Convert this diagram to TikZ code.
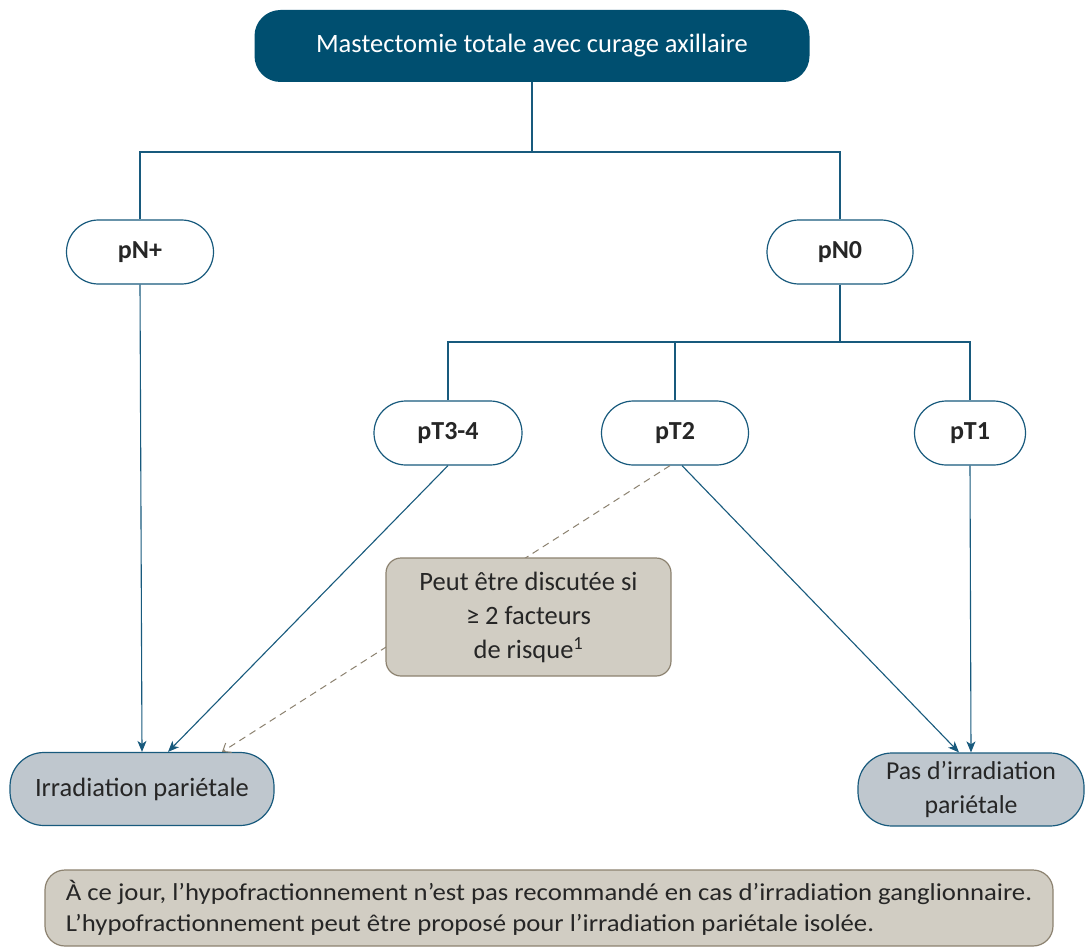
\documentclass[tikz,border=0pt]{standalone}
\usepackage{fontspec}
\setmainfont{Carlito}
\newfontfamily\widefont[FakeStretch=1.1]{Carlito}
\usetikzlibrary{arrows.meta,calc}
\definecolor{teal}{RGB}{0,79,112}
\definecolor{lnc}{RGB}{24,90,125}
\definecolor{tan}{RGB}{209,205,195}
\definecolor{tanb}{RGB}{140,130,112}
\definecolor{gry}{RGB}{191,199,206}
\begin{document}
\begin{tikzpicture}[x=1pt,y=-1pt,
  pill/.style={draw=lnc,line width=1.2pt,fill=white,rounded corners=32pt,minimum height=64pt,font=\fontsize{26}{30}\selectfont\bfseries,text=black!85},
  res/.style={draw=lnc,line width=1.2pt,fill=gry,rounded corners=34pt,minimum height=73pt,align=center,text=black!85},
  conn/.style={draw=lnc,line width=1.1pt},
  arr/.style={conn,-{Stealth[length=11pt,width=9pt,inset=3pt]}},
  darr/.style={draw=tanb,line width=1pt,dashed,dash pattern=on 7pt off 5pt,-{Straight Barb[length=7pt,width=11pt]}}]
\useasboundingbox (0,0) rectangle (1089,952);
\fill[white] (0,0) rectangle (1089,952);
\node[minimum width=555pt,minimum height=72pt,fill=teal,rounded corners=26pt,text=white,font=\fontsize{26.5}{30}\selectfont] (top) at (532,46) {Mastectomie totale avec curage axillaire};
\node[pill,minimum width=147pt] (pnp) at (140,252) {pN+};
\node[pill,minimum width=146pt] (pn0) at (840,252) {pN0};
\node[pill,minimum width=148pt] (t34) at (448,433) {pT3-4};
\node[pill,minimum width=147pt] (t2) at (675,433) {pT2};
\node[pill,minimum width=111pt] (t1) at (970,433) {pT1};
\node[res,minimum width=264pt,font=\fontsize{26.5}{33}\selectfont] (irr) at (142,789) {Irradiation pariétale};
\node[res,minimum width=226pt,font=\fontsize{25.8}{34}\selectfont] (pas) at (971,789.5) {Pas d’irradiation\\pariétale};
\coordinate (j1) at (532,152);
\coordinate (j2) at (840,342);
\draw[conn] (top.south) -- (j1);
\draw[conn] (j1) -| (pnp.north);
\draw[conn] (j1) -| (pn0.north);
\draw[conn] (pn0.south) -- (j2);
\draw[conn] (j2) -| (t34.north);
\draw[conn] (j2) -| (t1.north);
\draw[conn] (t2.north) -- (t2.north |- j2);
\draw[arr] (pnp.south) -- (irr.north);
\draw[arr] (t34.south) -- ($(irr.north)+(26,0)$);
\draw[darr] ($(t2.south)+(-5,0)$) -- ($(irr.north)+(80,0)$);
\draw[arr] ($(t2.south)+(7,0)$) -- ($(pas.north)+(-12,0)$);
\draw[arr] (t1.south) -- (pas.north);
\node[draw=tanb,line width=1.2pt,fill=tan,rounded corners=15pt,minimum width=285pt,minimum height=118pt,align=center,font=\fontsize{26.5}{34}\selectfont,text=black!85] (note) at (528.5,617) {Peut être discutée si\\≥ 2 facteurs\\de risque\textsuperscript{1}};
\node[draw=tanb,line width=1.2pt,fill=tan,rounded corners=20pt,minimum width=1008pt,minimum height=76pt,align=left,font=\widefont\fontsize{24.3}{31}\selectfont,text=black!85] (bot) at (549,908) {À ce jour, l’hypofractionnement n’est pas recommandé en cas d’irradiation ganglionnaire.\\L’hypofractionnement peut être proposé pour l’irradiation pariétale isolée.};
\end{tikzpicture}
\end{document}
